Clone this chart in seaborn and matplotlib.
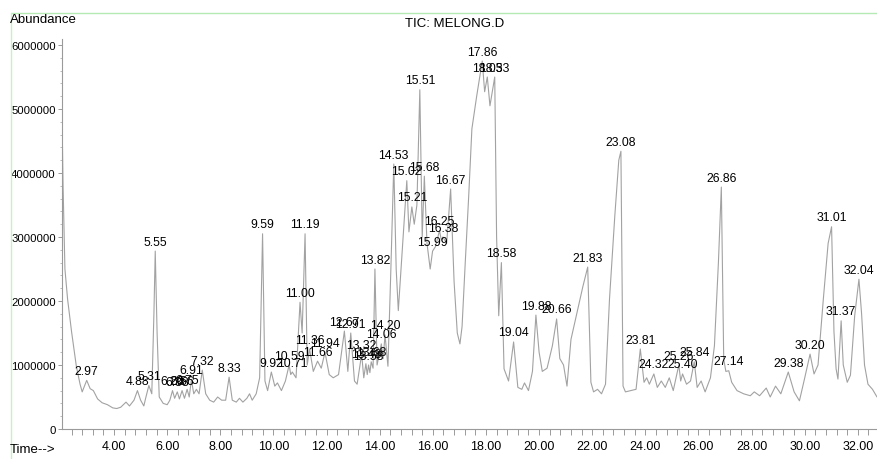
import matplotlib
matplotlib.use("Agg")
import matplotlib.pyplot as plt
from matplotlib.lines import Line2D
from matplotlib.ticker import MultipleLocator, FormatStrFormatter, FuncFormatter
import numpy as np
import pandas as pd
import seaborn as sns

# Labelled peaks: retention time (min) and apex abundance (millions of counts)
peak_rt = [2.97, 4.88, 5.31, 5.55, 6.20, 6.38, 6.56, 6.75, 6.91, 7.32, 8.33,
           9.59, 9.92, 10.59, 10.71, 11.00, 11.19, 11.36, 11.66, 11.94, 12.67,
           12.91, 13.32, 13.48, 13.58, 13.68, 13.82, 14.06, 14.20, 14.53, 15.02,
           15.21, 15.51, 15.68, 15.99, 16.25, 16.38, 16.67, 17.86, 18.05, 18.33,
           18.58, 19.04, 19.88, 20.66, 21.83, 23.08, 23.81, 24.32, 25.26, 25.40,
           25.84, 26.86, 27.14, 29.38, 30.20, 31.01, 31.37, 32.04]
peak_abund = [0.76, 0.60, 0.68, 2.78, 0.60, 0.58, 0.60, 0.62, 0.77, 0.92, 0.81,
              3.05, 0.89, 1.00, 0.89, 1.98, 3.05, 1.25, 1.06, 1.20, 1.53,
              1.50, 1.17, 1.02, 1.00, 1.05, 2.50, 1.33, 1.47, 4.14, 3.88,
              3.47, 5.30, 3.95, 2.78, 3.10, 3.00, 3.75, 5.75, 5.50, 5.50,
              2.60, 1.36, 1.78, 1.72, 2.53, 4.34, 1.25, 0.86, 1.00, 0.86,
              1.05, 3.78, 0.91, 0.89, 1.17, 3.16, 1.69, 2.34]

# Unlabelled points of the total ion current between the peaks
trace_rt = [2.04, 2.08, 2.15, 2.25, 2.40, 2.58, 2.72, 2.80, 3.10, 3.22, 3.38,
            3.55, 3.75, 3.95, 4.10, 4.25, 4.45, 4.58, 4.75, 5.00, 5.12, 5.20,
            5.42, 5.50, 5.62, 5.70, 5.85, 6.00, 6.10, 6.28, 6.46, 6.65, 6.83,
            7.00, 7.10, 7.20, 7.45, 7.60, 7.75, 7.90, 8.05, 8.20, 8.45, 8.60,
            8.72, 8.85, 9.00, 9.10, 9.20, 9.35, 9.48, 9.68, 9.78, 10.05, 10.15,
            10.30, 10.45, 10.65, 10.85, 11.08, 11.27, 11.50, 11.80, 12.10, 12.25,
            12.45, 12.80, 13.05, 13.15, 13.40, 13.53, 13.63, 13.75, 13.90, 14.13,
            14.31, 14.42, 14.62, 14.70, 14.85, 15.10, 15.30, 15.40, 15.60, 15.78,
            15.90, 16.10, 16.32, 16.52, 16.80, 16.92, 17.02, 17.10, 17.22, 17.35,
            17.47, 17.65, 17.95, 18.15, 18.40, 18.48, 18.68, 18.85, 19.20, 19.35,
            19.45, 19.60, 19.75, 20.00, 20.12, 20.30, 20.50, 20.78, 20.92, 21.05,
            21.20, 21.40, 21.65, 21.95, 22.05, 22.20, 22.35, 22.50, 22.65, 22.85,
            23.00, 23.16, 23.25, 23.45, 23.65, 23.95, 24.05, 24.15, 24.45, 24.60,
            24.75, 24.90, 25.05, 25.33, 25.55, 25.70, 25.95, 26.10, 26.25, 26.45,
            26.60, 26.75, 26.95, 27.03, 27.25, 27.45, 27.70, 27.95, 28.10, 28.30,
            28.55, 28.70, 28.90, 29.10, 29.60, 29.80, 30.00, 30.35, 30.50, 30.70,
            30.88, 31.10, 31.18, 31.25, 31.45, 31.60, 31.72, 31.88, 32.14, 32.25,
            32.38, 32.55, 32.72]
trace_abund = [4.90, 3.80, 2.50, 2.03, 1.52, 0.98, 0.70, 0.58, 0.63, 0.60, 0.47,
               0.41, 0.38, 0.33, 0.32, 0.34, 0.42, 0.36, 0.45, 0.45, 0.36, 0.50,
               0.55, 1.80, 1.50, 0.50, 0.40, 0.38, 0.45, 0.48, 0.47, 0.48, 0.50,
               0.55, 0.62, 0.55, 0.55, 0.45, 0.42, 0.50, 0.45, 0.45, 0.45, 0.42,
               0.48, 0.42, 0.48, 0.55, 0.45, 0.55, 0.80, 0.75, 0.60, 0.67, 0.72,
               0.60, 0.75, 0.85, 0.80, 1.50, 1.00, 0.90, 0.95, 0.85, 0.80,
               0.85, 0.90, 0.75, 0.70, 0.80, 0.85, 0.88, 0.95, 1.00, 1.10,
               0.98, 2.50, 2.50, 1.85, 2.80, 3.08, 3.20, 3.50, 3.00, 2.90,
               2.50, 2.85, 2.95, 2.90, 2.30, 1.50, 1.33, 1.60, 2.60, 3.64,
               4.69, 5.20, 5.27, 5.05, 3.00, 1.77, 0.94, 0.75, 0.65, 0.62,
               0.72, 0.60, 0.90, 1.20, 0.90, 0.95, 1.30, 1.10, 1.00, 0.67,
               1.40, 1.77, 2.23, 0.73, 0.58, 0.62, 0.55, 0.70, 2.03, 3.33,
               4.20, 0.67, 0.58, 0.60, 0.62, 0.73, 0.80, 0.70, 0.65, 0.75,
               0.65, 0.80, 0.60, 0.75, 0.70, 0.75, 0.65, 0.75, 0.58, 0.80,
               1.30, 2.60, 1.09, 0.90, 0.73, 0.60, 0.55, 0.52, 0.58, 0.52,
               0.64, 0.50, 0.67, 0.55, 0.58, 0.44, 0.80, 0.86, 1.00, 2.03,
               2.90, 1.52, 0.94, 0.78, 1.00, 0.73, 0.84, 1.77, 1.80, 1.00,
               0.70, 0.62, 0.50]

tic = pd.DataFrame({
    "rt": trace_rt + peak_rt,
    "abundance": [a * 1e6 for a in trace_abund + peak_abund],
}).sort_values("rt")

sns.set_style("white")
plt.rcParams["font.family"] = ["Liberation Sans Narrow", "Liberation Sans", "DejaVu Sans"]
plt.rcParams["text.color"] = "black"

W, H = 878, 460
fig = plt.figure(figsize=(W / 100, H / 100), dpi=100)
fig.patch.set_facecolor("white")

ymax = 6.1e6
ax = fig.add_axes([62 / W, 30 / H, (877 - 62) / W, (6.1 * 64) / H])
sns.lineplot(data=tic, x="rt", y="abundance", ax=ax, estimator=None, sort=True,
             color="#a2a2a2", linewidth=0.8)

ax.set_xlim(2.04, 32.72)
ax.set_ylim(0, ymax)
ax.set_xlabel("")
ax.set_ylabel("")

ax.xaxis.set_major_locator(MultipleLocator(2))
ax.xaxis.set_minor_locator(MultipleLocator(0.4))
ax.xaxis.set_major_formatter(FormatStrFormatter("%.2f"))
ax.yaxis.set_major_locator(MultipleLocator(1e6))
ax.yaxis.set_minor_locator(MultipleLocator(2e5))
ax.yaxis.set_major_formatter(FuncFormatter(lambda v, p: f"{int(round(v))}"))

ax.tick_params(axis="x", which="both", direction="out", length=4, width=0.6,
               color="#8a8a8a", labelsize=9, labelcolor="black", pad=4, bottom=True)
ax.tick_params(axis="y", which="major", direction="out", length=3, width=0.6,
               color="#8a8a8a", labelsize=8.2, labelcolor="black", pad=1.5, left=True)
ax.tick_params(axis="y", which="minor", direction="out", length=1.2, width=0.6,
               color="#b0b0b0", left=True)

for side in ("top", "right"):
    ax.spines[side].set_visible(False)
for side in ("left", "bottom"):
    ax.spines[side].set_color("#9a9a9a")
    ax.spines[side].set_linewidth(0.8)

# Retention-time labels above each peak apex
for rt, ab in zip(peak_rt, peak_abund):
    ax.annotate(f"{rt:.2f}", (rt, ab * 1e6), xytext=(0, 2.5),
                textcoords="offset points", ha="center", va="bottom",
                fontsize=8.8, color="black")

fig.text(10 / W, 1 - 20 / H, "Abundance", ha="left", va="center", fontsize=9.5)
fig.text(10 / W, 1 - 450 / H, "Time-->", ha="left", va="center", fontsize=9.5)
fig.text(455 / W, 1 - 24 / H, "TIC: MELONG.D", ha="center", va="center", fontsize=9.5)

# Light green frame lines along the top and left edges
fig.add_artist(Line2D([11 / W, 1], [1 - 14 / H, 1 - 14 / H], transform=fig.transFigure,
                      color="#b5eab5", linewidth=1.0))
fig.add_artist(Line2D([11 / W, 11 / W], [0, 1 - 14 / H], transform=fig.transFigure,
                      color="#c8f0c8", linewidth=1.0))

fig.savefig("out.png", dpi=100, facecolor="white")
